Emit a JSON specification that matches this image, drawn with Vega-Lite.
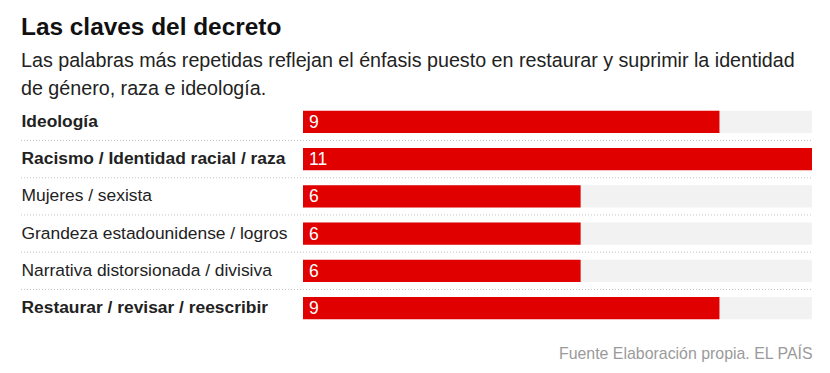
{
  "$schema": "https://vega.github.io/schema/vega-lite/v6.json",
  "width": 791,
  "height": 223.4,
  "autosize": {"type": "none"},
  "padding": {"left": 21, "top": 103.3, "right": 18, "bottom": 46.3},
  "background": "white",
  "view": {"stroke": null},
  "title": {
    "text": "Las claves del decreto",
    "subtitle": ["Las palabras más repetidas reflejan el énfasis puesto en restaurar y suprimir la identidad", "de género, raza e ideología."],
    "anchor": "start",
    "frame": "group",
    "font": "Liberation Sans",
    "fontSize": 24.4,
    "fontWeight": "bold",
    "color": "#111111",
    "subtitleFont": "Liberation Sans",
    "subtitleFontSize": 19.7,
    "subtitleColor": "#222222",
    "subtitleLineHeight": 28,
    "subtitlePadding": 10,
    "offset": 4
  },
  "data": {
    "values": [
      {"label": "Ideología", "value": 9, "max": 11},
      {"label": "Racismo / Identidad racial / raza", "value": 11, "max": 11},
      {"label": "Mujeres / sexista", "value": 6, "max": 11},
      {"label": "Grandeza estadounidense / logros", "value": 6, "max": 11},
      {"label": "Narrativa distorsionada / divisiva", "value": 6, "max": 11},
      {"label": "Restaurar / revisar / reescribir", "value": 9, "max": 11}
    ]
  },
  "encoding": {
    "y": {
      "field": "label",
      "type": "nominal",
      "sort": null,
      "scale": {"paddingInner": 0.4, "paddingOuter": 0.2},
      "axis": {
        "title": null,
        "domain": false,
        "ticks": false,
        "grid": false,
        "labelAlign": "left",
        "labelPadding": 0,
        "labelLimit": 320,
        "labelFont": "Liberation Sans",
        "labelFontSize": 17.4,
        "labelColor": "#222222",
        "labelFontWeight": {
          "condition": {"test": "indexof(['Ideología','Racismo / Identidad racial / raza','Restaurar / revisar / reescribir'], datum.value) >= 0", "value": "bold"},
          "value": "normal"
        }
      }
    }
  },
  "layer": [
    {
      "mark": {"type": "bar", "color": "#f2f2f2"},
      "encoding": {
        "x": {
          "field": "max",
          "type": "quantitative",
          "scale": {"domain": [0, 11], "range": [282, 791], "nice": false, "zero": true},
          "axis": {
            "title": "Fuente Elaboración propia. EL PAÍS",
            "titleAnchor": "end",
            "titleAlign": "right",
            "titleFont": "Liberation Sans",
            "titleFontSize": 15.9,
            "titleFontWeight": "normal",
            "titleColor": "#9a9a9a",
            "titlePadding": 19,
            "domain": false,
            "ticks": false,
            "labels": false,
            "grid": false
          }
        }
      }
    },
    {
      "mark": {"type": "bar", "color": "#e00000"},
      "encoding": {"x": {"field": "value", "type": "quantitative"}}
    },
    {
      "mark": {"type": "text", "align": "left", "baseline": "middle", "dx": 6, "dy": 1, "color": "white", "font": "Liberation Sans", "fontSize": 17.5},
      "encoding": {
        "x": {"datum": 0, "type": "quantitative"},
        "text": {"field": "value", "type": "quantitative"}
      }
    },
    {
      "transform": [{"filter": "datum.label != 'Restaurar / revisar / reescribir'"}],
      "mark": {"type": "rule", "color": "#c4c4c4", "strokeDash": [1, 2], "strokeWidth": 1},
      "encoding": {
        "y": {"field": "label", "type": "nominal", "sort": null, "bandPosition": 1.3333},
        "x": {"datum": -6.094, "type": "quantitative"},
        "x2": {"datum": 11}
      }
    }
  ]
}
